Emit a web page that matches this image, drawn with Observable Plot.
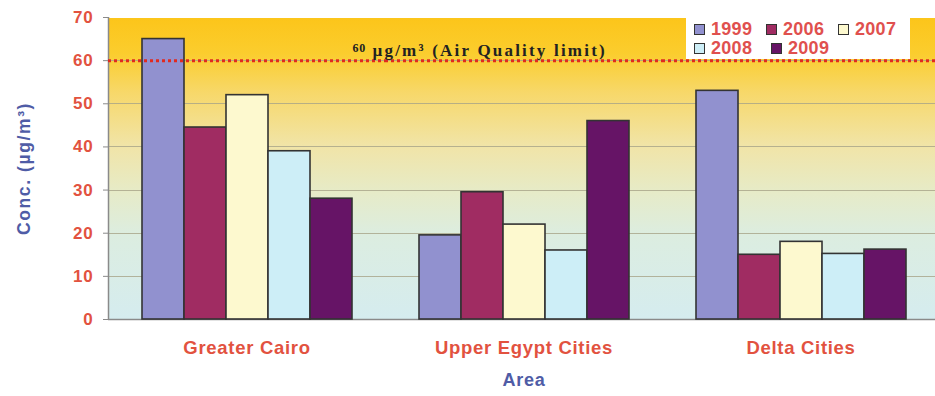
<!DOCTYPE html>
<html>
<head>
<meta charset="utf-8">
<script src="https://cdn.jsdelivr.net/npm/d3@7"></script>
<script src="https://cdn.jsdelivr.net/npm/@observablehq/plot@0.6"></script>
<style>
  html, body { margin: 0; padding: 0; background: #fff; }
  #wrap { position: relative; width: 935px; height: 396px; overflow: hidden; font-family: Arial, "Liberation Sans", sans-serif; }
  #legend { position: absolute; left: 686px; top: 17px; width: 224px; height: 42px; background: #fff; box-sizing: border-box; padding: 3px 0 0 8px; }
  #legend .row { display: flex; height: 19px; align-items: center; }
  #legend .item { display: flex; align-items: center; width: 77px; font-weight: bold; font-size: 18px; color: #e0504e; letter-spacing: 0.3px; }
  #legend .sw { width: 9px; height: 9px; border: 1.5px solid #333; margin-right: 6px; }
</style>
</head>
<body>
<div id="wrap"><div id="chart"></div><div id="legend"></div></div>
<script>
const areas = ["Greater Cairo", "Upper Egypt Cities", "Delta Cities"];
const years = ["1999", "2006", "2007", "2008", "2009"];
const values = {
  "1999": [65, 19.5, 53],
  "2006": [44.5, 29.5, 15],
  "2007": [52, 22, 18],
  "2008": [39, 16, 15.2],
  "2009": [28, 46, 16.2]
};
const colors = ["#9191cf", "#a02c62", "#fdf9cf", "#cdeef7", "#661466"];
const yTicks = [0, 10, 20, 30, 40, 50, 60, 70];
const limit = 60;
const yLabel = "Conc. (µg/m³)";
const xLabel = "Area";
const limitLabel = "µg/m³ (Air Quality limit)";

const data = [];
for (const y of years) areas.forEach((a, i) => data.push({area: a, year: y, value: values[y][i]}));
const first = [{area: areas[0]}];
const middle = [{area: areas[1]}];

const defs = () => {
  const d = d3.create("svg:defs");
  const g = d.append("linearGradient").attr("id", "bg").attr("x1", 0).attr("y1", 0).attr("x2", 0).attr("y2", 1);
  [[0, "#fcc51a"], [0.12, "#fbcd2e"], [0.25, "#f7d86a"], [0.42, "#f1e4a6"], [0.58, "#e6ebc8"], [0.72, "#dcede0"], [1, "#d5ecef"]]
    .forEach(([o, c]) => g.append("stop").attr("offset", o).attr("stop-color", c));
  return d.node();
};

const serif = "'Liberation Serif', 'Times New Roman', serif";

const chart = Plot.plot({
  width: 935,
  height: 396,
  marginTop: 17,
  marginBottom: 77,
  marginLeft: 108,
  marginRight: 0,
  style: {fontFamily: "Arial, 'Liberation Sans', sans-serif", background: "transparent", overflow: "visible"},
  fx: {domain: areas, range: [108, 939], padding: 0, label: null, axis: null},
  x: {domain: years, paddingInner: 0, paddingOuter: 0.736, axis: null},
  y: {domain: [0, 70], axis: null},
  color: {domain: years, range: colors},
  marks: [
    defs,
    Plot.frame({fill: "url(#bg)", stroke: null, shapeRendering: "crispEdges"}),
    Plot.ruleY(yTicks.slice(1, -1), {stroke: "#a8a488", strokeWidth: 1, strokeOpacity: 0.8, shapeRendering: "crispEdges"}),
    Plot.ruleY([0], {stroke: "#8a8a8a", strokeWidth: 1.5}),
    Plot.ruleX(first, {fx: "area", x: null, y1: 0, y2: 70, dx: -138.5, stroke: "#8a8a8a", strokeWidth: 1.5}),
    Plot.axisY({ticks: yTicks, tickSize: 5, tickPadding: 10, fontSize: 17, fontWeight: "bold", color: "#e2523f", stroke: "#8a8a8a", label: null}),
    Plot.barY(data, {fx: "area", x: "year", y: "value", fill: "year", stroke: "#333", strokeWidth: 1.6}),
    Plot.ruleY([limit], {stroke: "#e02a20", strokeWidth: 3, strokeDasharray: "3,3"}),
    Plot.text(first, {fx: "area", text: () => "60", frameAnchor: "left", y: () => limit, dx: 244, dy: -12, textAnchor: "start", fontSize: 12, fontWeight: "bold", fill: "#222", fontFamily: serif}),
    Plot.text(first, {fx: "area", text: () => limitLabel, frameAnchor: "left", y: () => limit, dx: 264, dy: -10, textAnchor: "start", fontSize: 17, fontWeight: "bold", fill: "#222", fontFamily: serif}),
    Plot.axisFx({anchor: "bottom", tickSize: 0, tickPadding: 21, fontSize: 18.5, fontWeight: "bold", color: "#e2523f", label: null}),
    Plot.text(middle, {fx: "area", text: () => xLabel, frameAnchor: "bottom", dy: 66, fontSize: 18, fontWeight: "bold", fill: "#4f5ca6"}),
    Plot.text(first, {fx: "area", text: () => yLabel, frameAnchor: "left", textAnchor: "middle", dx: -84, rotate: -90, fontSize: 17.5, fontWeight: "bold", fill: "#4f5ca6"})
  ]
});
const svg = d3.select(chart);
const spacing = (test, s) => svg.selectAll("text").filter(function() { return test(this.textContent); }).attr("letter-spacing", s);
spacing(t => areas.includes(t), "0.7px");
spacing(t => yTicks.map(String).includes(t), "0.8px");
spacing(t => t === yLabel, "1.6px");
spacing(t => t === xLabel, "0.8px");
spacing(t => t === limitLabel, "2.2px");
spacing(t => t === "60", "0.8px");
document.getElementById("chart").append(chart);

const legend = document.getElementById("legend");
const rows = [years.slice(0, 3), years.slice(3)];
rows.forEach(r => {
  const row = document.createElement("div");
  row.className = "row";
  r.forEach(y => {
    const it = document.createElement("div");
    it.className = "item";
    const sw = document.createElement("span");
    sw.className = "sw";
    sw.style.background = colors[years.indexOf(y)];
    it.append(sw, document.createTextNode(y));
    row.append(it);
  });
  legend.append(row);
});
</script>
</body>
</html>
